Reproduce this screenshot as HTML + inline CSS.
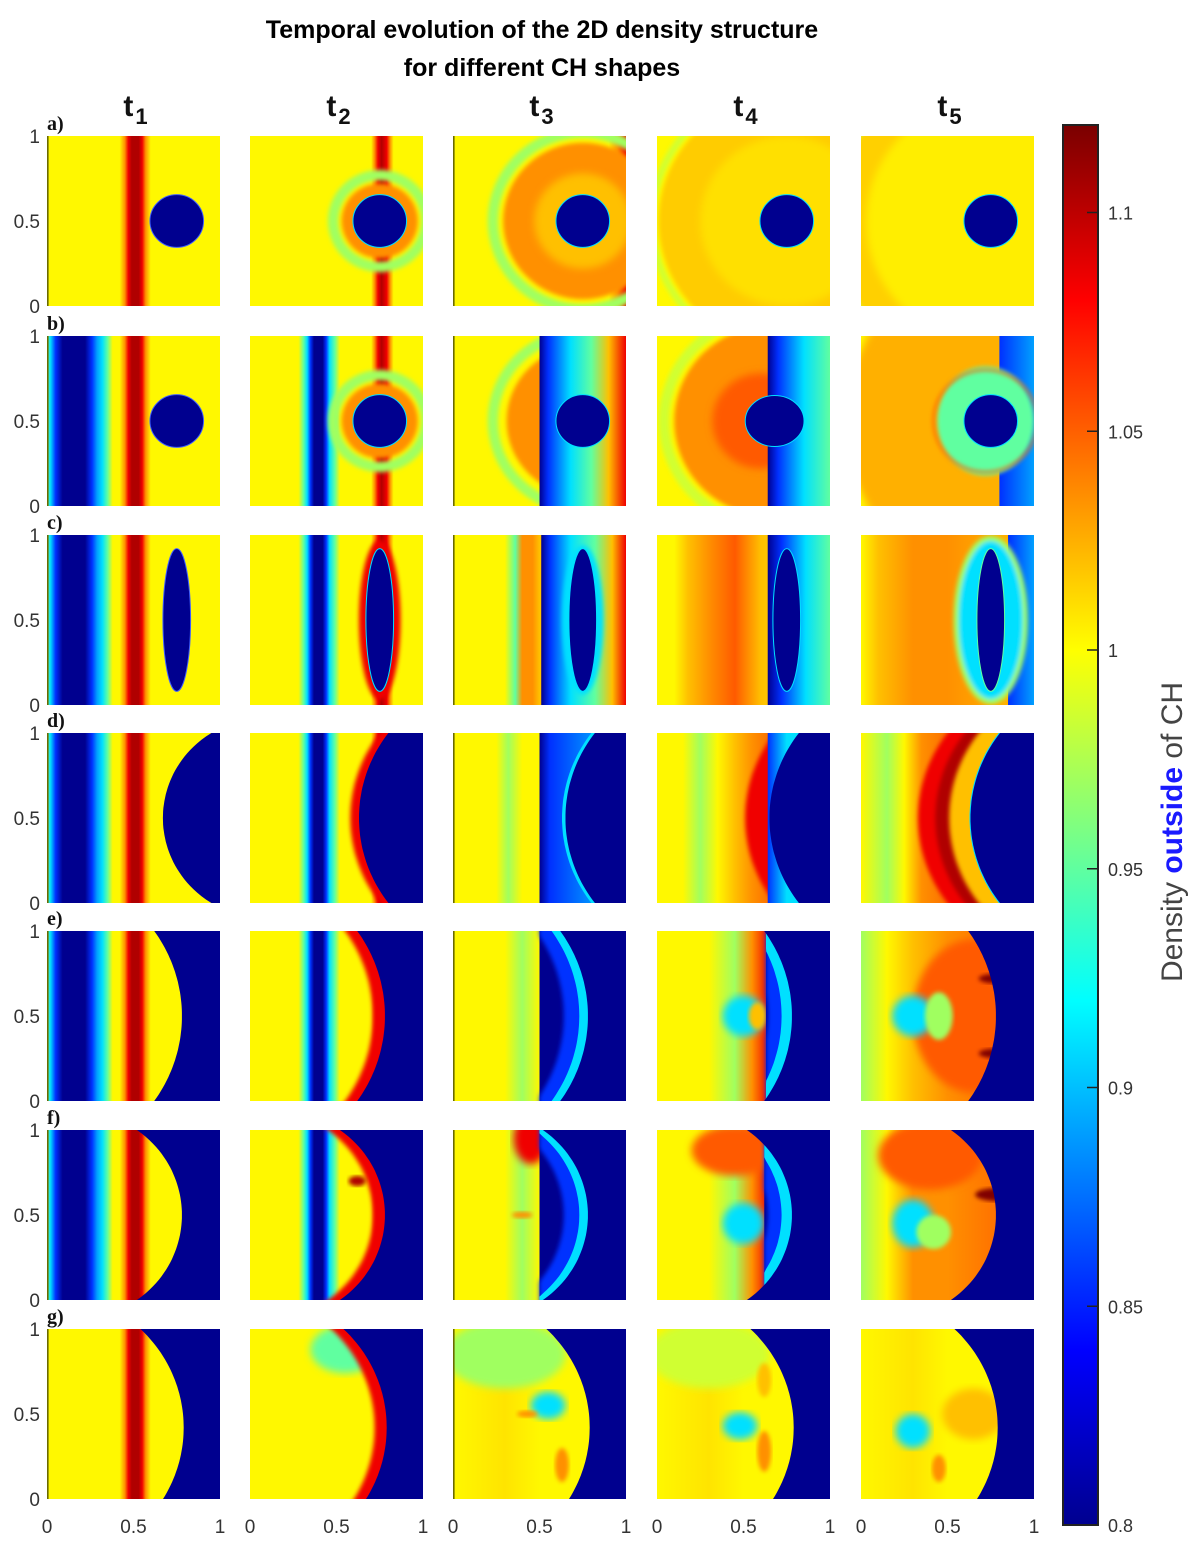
<!DOCTYPE html>
<html><head><meta charset="utf-8"><style>
html,body{margin:0;padding:0;background:#fff;}
svg{display:block;font-family:"Liberation Sans",sans-serif;}
</style></head><body>
<svg id="fig" width="1200" height="1558" viewBox="0 0 1200 1558" xmlns="http://www.w3.org/2000/svg">
<defs id="defs">
<filter id="soft" x="-10%" y="-10%" width="120%" height="120%"><feGaussianBlur stdDeviation="2.2"/></filter>
<filter id="soft2" x="-10%" y="-10%" width="120%" height="120%"><feGaussianBlur stdDeviation="4"/></filter>
</defs>
<text x="542" y="38" text-anchor="middle" font-size="25" font-weight="bold" fill="#000">Temporal evolution of the 2D density structure</text>
<text x="542" y="76" text-anchor="middle" font-size="25" font-weight="bold" fill="#000">for different CH shapes</text>
<g id="panels"></g>
<g id="colorbar"></g>
</svg>
<script>
// ---- data ----
const rowLabels=['a)','b)','c)','d)','e)','f)','g)'];
const colLabels=['1','2','3','4','5'];
const axisTicks=[0,0.5,1];
const axisTickText=['0','0.5','1'];
const cbTicks=[1.1,1.05,1,0.95,0.9,0.85,0.8];
const cbTickText=['1.1','1.05','1','0.95','0.9','0.85','0.8'];
const cbMin=[0.8];
const cbMax=[1.12];

// ---- layout ----
const NS='http://www.w3.org/2000/svg';
const colX=[47,250,453,657,861], rowY=[136,336,535,733,931,1130,1329];
const W=173,H=170;
const Y='#fff800',LY='#ffe400',LO='#ffc000',O='#ff9000',OR='#ff5a00',R='#f00000',DR='#b00000',DDR='#800000',
YG='#d0ff30',G='#a0ff60',GC='#60ffa0',C='#00e0ff',C2='#00a0ff',B='#0030ff',DB='#00008f';
const defs=document.getElementById('defs');
let gid=0;
function el(tag,attrs,parent){const e=document.createElementNS(NS,tag);for(const k in attrs)e.setAttribute(k,attrs[k]);if(parent)parent.appendChild(e);return e;}
function hgrad(p,stops){const id='g'+(gid++);const g=el('linearGradient',{id:id,gradientUnits:'userSpaceOnUse',x1:p.x,y1:0,x2:p.x+W,y2:0},defs);
 stops.forEach(s=>el('stop',{offset:s[0],'stop-color':s[1]},g));return 'url(#'+id+')';}
function px(p,u){return p.x+u*W;} function py(p,v){return p.y+v*H;}
function bg(p,stops){el('rect',{x:p.x,y:p.y,width:W,height:H,fill:hgrad(p,stops)},p.g);}
function rectU(p,x0,x1,fill){el('rect',{x:px(p,x0),y:p.y-2,width:(x1-x0)*W,height:H+4,fill:fill},p.g);}
function disk(p,cx,cy,rx,ry,fill,soft){const e=el('ellipse',{cx:px(p,cx),cy:py(p,cy),rx:rx*W,ry:ry*H,fill:fill},p.g);if(soft)e.setAttribute('filter','url(#'+soft+')');return e;}
function ring(p,cx,cy,r,col,sw,soft){const e=el('ellipse',{cx:px(p,cx),cy:py(p,cy),rx:r*W,ry:r*H,fill:'none',stroke:col,'stroke-width':sw*W},p.g);if(soft!==false)e.setAttribute('filter','url(#soft)');return e;}
function bpoly(p,fn,shift,fill,xmin,soft){let pts=[];for(let i=-1;i<=51;i++){const v=i/50;let x=fn(Math.min(1.02,Math.max(-0.02,v)))+shift;if(xmin!==undefined)x=Math.max(xmin,x);pts.push(px(p,x).toFixed(1)+','+py(p,v).toFixed(1));}
 pts.push(px(p,1.05)+','+py(p,1.05));pts.push(px(p,1.05)+','+py(p,-0.05));
 const e=el('polygon',{points:pts.join(' '),fill:fill},p.g);if(soft)e.setAttribute('filter','url(#'+soft+')');return e;}
const bd1=v=>1.256-Math.sqrt(0.586*0.586-(v-0.5)*(v-0.5));
const bd2=v=>1.45-Math.sqrt(0.82*0.82-(v-0.5)*(v-0.5));
const be=v=>-0.08+Math.sqrt(0.86*0.86-(v-0.5)*(v-0.5));
const bf=v=>0.17+Math.sqrt(0.61*0.61-(v-0.5)*(v-0.5));
const bgf=v=>-0.008+Math.sqrt(0.798*0.798-(v-0.58)*(v-0.58));
const P1a=[[0,Y],[.42,Y],[.45,O],[.47,R],[.49,DR],[.53,DR],[.55,R],[.57,O],[.6,Y],[1,Y]];
const P1b=[[0,GC],[.02,C],[.05,B],[.09,DB],[.22,DB],[.26,B],[.29,C2],[.32,C],[.35,GC],[.38,Y],[.42,Y],[.45,O],[.47,R],[.49,DR],[.53,DR],[.55,R],[.57,O],[.6,Y],[1,Y]];
const P2a=[[0,Y],[.7,Y],[.72,O],[.74,R],[.76,DR],[.79,R],[.81,O],[.83,Y],[1,Y]];
const P2b=[[0,Y],[.28,Y],[.31,GC],[.33,C],[.35,B],[.37,DB],[.42,DB],[.44,B],[.46,C],[.49,GC],[.52,Y],[.7,Y],[.72,O],[.74,R],[.76,DR],[.79,R],[.81,O],[.83,Y],[1,Y]];
function circCH(p,rim){disk(p,.75,.5,.155,.155,DB).setAttribute('stroke',rim||C);}
function ellCH(p,cx,rim){const e=disk(p,cx||.75,.5,.08,.42,DB);e.setAttribute('stroke',rim||C);}
function rightGrad(p,xs,stops){rectU(p,xs,1.02,hgrad(p,stops));}

const draw=[
// row a
[p=>{bg(p,P1a);circCH(p,'#4060ff');},
 p=>{bg(p,P2a);ring(p,.75,.5,.27,G,.06);disk(p,.75,.5,.22,.22,O,'soft');circCH(p);},
 p=>{bg(p,[[0,Y],[.9,Y],[.95,O],[1,R]]);ring(p,.75,.5,.52,G,.06);disk(p,.75,.5,.46,.46,O,'soft');disk(p,.75,.5,.28,.28,LO,'soft2');circCH(p);},
 p=>{bg(p,[[0,Y],[1,Y]]);ring(p,.75,.5,.78,YG,.04);disk(p,.75,.5,.74,.74,'#ffcc00','soft');disk(p,.75,.5,.5,.5,'#ffe000','soft2');circCH(p);},
 p=>{bg(p,[[0,YG],[.08,Y],[1,Y]]);disk(p,.75,.5,.9,.9,'#ffd000','soft');disk(p,.75,.5,.72,.72,'#ffee00','soft2');circCH(p);}],
// row b
[p=>{bg(p,P1b);circCH(p,'#4060ff');},
 p=>{bg(p,P2b);ring(p,.75,.5,.27,G,.06);disk(p,.75,.5,.22,.22,O,'soft');circCH(p);},
 p=>{bg(p,[[0,Y],[1,Y]]);ring(p,.75,.5,.52,G,.06);disk(p,.75,.5,.44,.44,O,'soft');rightGrad(p,.5,[[.5,DB],[.55,B],[.68,C],[.8,GC],[.9,LO],[1,R]]);circCH(p);},
 p=>{bg(p,[[0,Y],[1,Y]]);ring(p,.66,.5,.62,YG,.06);disk(p,.66,.5,.56,.56,O,'soft');disk(p,.6,.5,.28,.28,OR,'soft2');rightGrad(p,.64,[[.64,DB],[.7,B],[.85,C],[1,GC]]);disk(p,.68,.5,.17,.15,DB).setAttribute('stroke',C);},
 p=>{bg(p,[[0,Y],[.1,LO],[1,O]]);disk(p,.7,.5,.8,.85,'#ffb000','soft2');rightGrad(p,.8,[[.8,B],[1,C2]]);const e=disk(p,.72,.5,.28,.32,GC,'soft');ring(p,.72,.5,.3,OR,.012);circCH(p);}],
// row c
[p=>{bg(p,P1b);ellCH(p,.75,'#4060ff');},
 p=>{bg(p,P2b);disk(p,.75,.5,.12,.47,R,'soft');ellCH(p);},
 p=>{bg(p,[[0,Y],[.3,Y],[.36,GC],[.4,O],[.46,O],[.5,LO],[1,Y]]);rightGrad(p,.51,[[.51,DB],[.56,B],[.68,C],[.82,GC],[.92,LO],[1,R]]);disk(p,.75,.5,.12,.44,C,'soft');ellCH(p);},
 p=>{bg(p,[[0,Y],[.1,Y],[.18,LO],[.3,O],[.45,OR],[.6,LO],[1,Y]]);rightGrad(p,.64,[[.64,DB],[.72,B],[.86,C],[1,GC]]);ellCH(p);},
 p=>{bg(p,[[0,Y],[.1,LO],[.3,O],[.5,O],[1,LO]]);rightGrad(p,.85,[[.85,B],[1,C2]]);const e=disk(p,.75,.5,.2,.48,C);e.setAttribute('stroke',G);e.setAttribute('stroke-width',5);e.setAttribute('filter','url(#soft)');ellCH(p,.75,GC);}],
// row d
[p=>{bg(p,P1b);bpoly(p,bd1,0,DB);},
 p=>{bg(p,P2b);bpoly(p,bd2,-.05,R,undefined,'soft');bpoly(p,bd2,0,DB);},
 p=>{bg(p,[[0,Y],[.25,Y],[.32,G],[.4,Y],[1,Y]]);rightGrad(p,.5,[[.5,DB],[.56,B],[1,C]]);bpoly(p,bd2,0,C);bpoly(p,bd2,.02,DB);},
 p=>{bg(p,[[0,Y],[.15,Y],[.25,G],[.35,Y],[.45,LO],[.55,O],[1,R]]);bpoly(p,bd2,-.12,R,undefined,'soft');rightGrad(p,.64,[[.64,B],[.75,C],[1,C]]);bpoly(p,bd2,.02,DB);},
 p=>{bg(p,[[0,Y],[.15,G],[.25,Y],[.35,O],[1,R]]);bpoly(p,bd2,-.3,R,undefined,'soft');bpoly(p,bd2,-.2,DR,undefined,'soft');bpoly(p,bd2,-.12,LO,undefined,'soft');bpoly(p,bd2,0,DB).setAttribute('stroke',C);}],
// row e
[p=>{bg(p,P1b);bpoly(p,be,0,DB);},
 p=>{bg(p,P2b);bpoly(p,be,-.07,R,undefined,'soft');bpoly(p,be,0,DB);},
 p=>{bg(p,[[0,Y],[.3,Y],[.4,G],[.5,Y],[1,Y]]);rightGrad(p,.5,[[.5,DB],[1,DB]]);bpoly(p,be,-.14,B,.5,'soft');bpoly(p,be,-.05,C,.5);bpoly(p,be,0,DB);},
 p=>{bg(p,[[0,Y],[.3,Y],[.45,G],[.55,O],[.65,R],[1,R]]);disk(p,.5,.5,.12,.12,C,'soft2');disk(p,.58,.5,.05,.08,LO,'soft');rightGrad(p,.63,[[.63,DB],[1,DB]]);bpoly(p,be,-.14,B,.63,'soft');bpoly(p,be,-.06,C,.63);bpoly(p,be,0,DB);},
 p=>{bg(p,[[0,G],[.15,Y],[.3,LO],[.5,O],[1,OR]]);disk(p,.65,.5,.35,.45,OR,'soft2');disk(p,.3,.5,.12,.12,C,'soft2');disk(p,.45,.5,.08,.14,G,'soft');disk(p,.8,.28,.12,.03,DDR,'soft');disk(p,.8,.72,.12,.03,DDR,'soft');bpoly(p,be,0,DB);}],
// row f
[p=>{bg(p,P1b);bpoly(p,bf,0,DB);},
 p=>{bg(p,P2b);bpoly(p,bf,-.07,R,undefined,'soft');disk(p,.62,.3,.05,.03,DR,'soft');bpoly(p,bf,0,DB);},
 p=>{bg(p,[[0,Y],[.3,Y],[.4,G],[.5,Y],[1,Y]]);disk(p,.45,.05,.1,.15,R,'soft2');disk(p,.4,.5,.06,.02,O,'soft');rightGrad(p,.5,[[.5,DB],[1,DB]]);bpoly(p,bf,-.14,B,.5,'soft');bpoly(p,bf,-.05,C,.5);bpoly(p,bf,0,DB);},
 p=>{bg(p,[[0,Y],[.3,Y],[.45,G],[.55,O],[.65,R],[1,R]]);disk(p,.45,.12,.25,.15,OR,'soft2');disk(p,.5,.55,.12,.12,C,'soft2');rightGrad(p,.62,[[.62,DB],[1,DB]]);bpoly(p,bf,-.14,B,.62,'soft');bpoly(p,bf,-.06,C,.62);bpoly(p,bf,0,DB);},
 p=>{bg(p,[[0,G],[.15,Y],[.3,O],[.5,O],[1,OR]]);disk(p,.4,.15,.3,.2,OR,'soft2');disk(p,.3,.55,.12,.14,C,'soft2');disk(p,.42,.6,.1,.1,G,'soft');disk(p,.8,.38,.14,.04,DDR,'soft');bpoly(p,bf,0,DB);}],
// row g
[p=>{bg(p,P1a);bpoly(p,bgf,0,DB);},
 p=>{bg(p,[[0,Y],[1,Y]]);disk(p,.55,.12,.2,.14,GC,'soft2');bpoly(p,bgf,-.07,R,undefined,'soft');bpoly(p,bgf,0,DB);},
 p=>{bg(p,[[0,Y],[.3,LY],[.5,Y],[1,Y]]);disk(p,.3,.15,.35,.2,G,'soft2');disk(p,.55,.45,.1,.08,C,'soft2');disk(p,.43,.5,.06,.02,O,'soft');disk(p,.63,.8,.04,.1,O,'soft');bpoly(p,bgf,0,DB);},
 p=>{bg(p,[[0,Y],[.3,LY],[.5,Y],[1,Y]]);disk(p,.3,.15,.35,.2,YG,'soft2');disk(p,.48,.57,.1,.08,C,'soft2');disk(p,.62,.72,.04,.12,O,'soft');disk(p,.62,.3,.04,.1,LO,'soft');bpoly(p,bgf,0,DB);},
 p=>{bg(p,[[0,Y],[.3,LY],[.5,Y],[1,Y]]);disk(p,.3,.6,.1,.1,C,'soft2');disk(p,.65,.5,.18,.15,LO,'soft2');disk(p,.45,.82,.04,.08,O,'soft');bpoly(p,bgf,0,DB);}]
];

const pg=document.getElementById('panels');
for(let r=0;r<rowLabels.length;r++){
 for(let c=0;c<colLabels.length;c++){
  const x=colX[c],y=rowY[r];
  const cid='clip'+r+'_'+c;
  const cp=el('clipPath',{id:cid},defs);el('rect',{x:x,y:y,width:W,height:H},cp);
  const g=el('g',{'clip-path':'url(#'+cid+')'},pg);
  
  
  draw[r][c]({x:x,y:y,g:g});
  if(c===0||c===2){const ax=el('line',{x1:x+0.8,y1:y,x2:x+0.8,y2:y+H,stroke:'#6b6b00','stroke-width':1.6},pg);
   
   }
 }
 const rl=el('text',{x:47,y:rowY[r]-6,'font-size':20,'font-weight':'bold','font-family':'"Liberation Serif",serif',fill:'#111'},pg);
 rl.textContent=rowLabels[r];
 
 
 axisTicks.forEach((t,i)=>{const yy=rowY[r]+H-t*H;
  const tx=el('text',{x:40,y:yy+7,'text-anchor':'end','font-size':19,fill:'#333'},pg);
  tx.textContent=axisTickText[i];
  
  });
}
colLabels.forEach((s,c)=>{const cx=colX[c]+W/2+2;
 const t=el('text',{x:cx,y:116,'text-anchor':'middle','font-size':30,'font-weight':'bold',fill:'#111'},pg);
 t.textContent='t';const sub=el('tspan',{'font-size':22,dy:8,dx:2},t);sub.textContent=s;
 
 
 axisTicks.forEach((v,i)=>{const tx=el('text',{x:colX[c]+v*W,y:1533,'text-anchor':'middle','font-size':19,fill:'#333'},pg);
  tx.textContent=axisTickText[i];
  
  });
});

const cb=document.getElementById('colorbar');
const cbX=1063,cbW=35,cbTop=125,cbBot=1525;
function cbY(v){return cbBot-(v-cbMin[0])/(cbMax[0]-cbMin[0])*(cbBot-cbTop);}
const cg=el('linearGradient',{id:'jet',x1:0,y1:1,x2:0,y2:0},defs);
[[0,'#00008f'],[0.125,'#0000ff'],[0.375,'#00ffff'],[0.625,'#ffff00'],[0.875,'#ff0000'],[1,'#7a0000']].forEach(s=>el('stop',{offset:s[0],'stop-color':s[1]},cg));
const cbr=el('rect',{x:cbX,y:cbTop,width:cbW,height:cbBot-cbTop,fill:'url(#jet)',stroke:'#222','stroke-width':2},cb);


cbTicks.forEach((v,i)=>{const yy=cbY(v);
 const tk=el('line',{x1:cbX+cbW-11,y1:yy,x2:cbX+cbW,y2:yy,stroke:'#222','stroke-width':1.5},cb);
 
 
 const tl=el('text',{x:1108,y:yy+7,'font-size':18,fill:'#333'},cb);
 tl.textContent=cbTickText[i];
 
 });
const lab=el('text',{x:1182,y:832,'text-anchor':'middle','font-size':30,fill:'#444',transform:'rotate(-90 1182 832)'},cb);
lab.innerHTML='Density <tspan fill="#1a1aff" font-weight="bold">outside</tspan> of CH';


</script>
</body></html>
